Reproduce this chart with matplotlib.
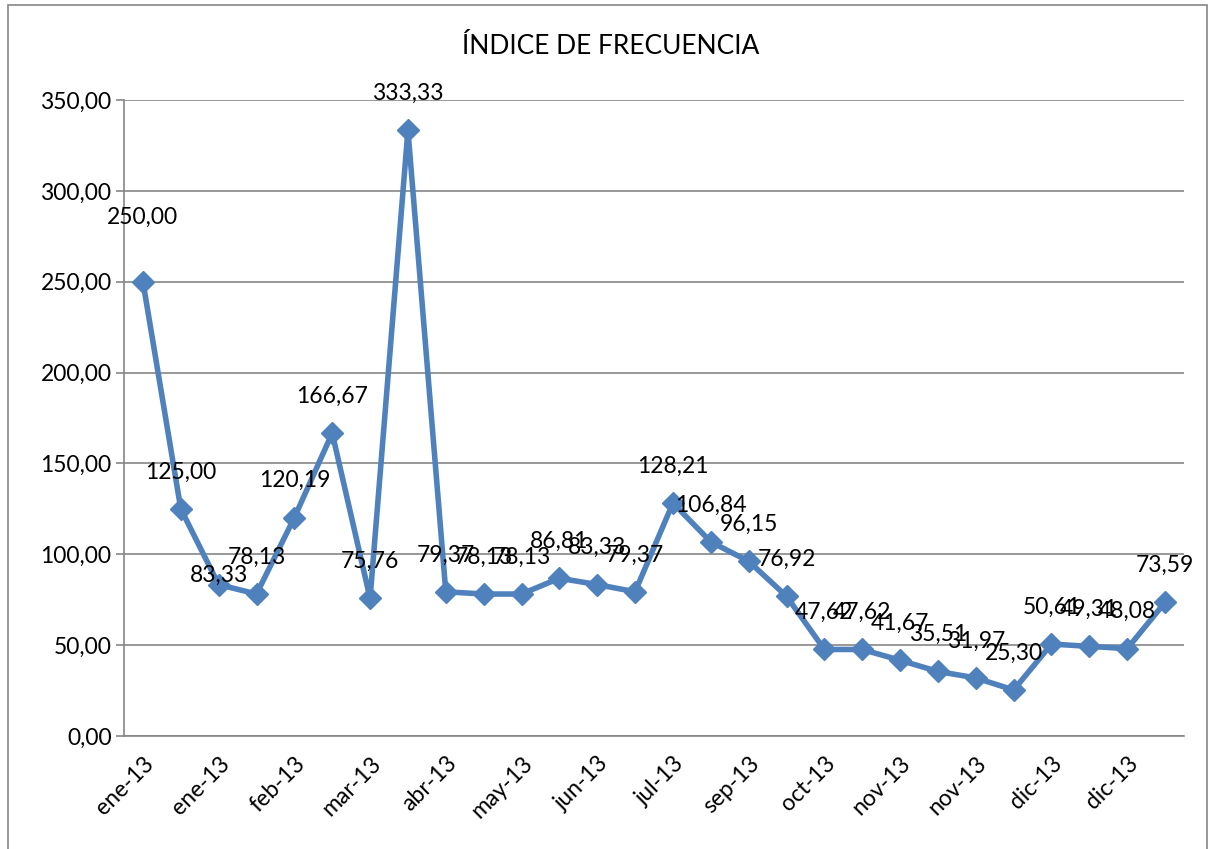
import matplotlib
matplotlib.use("Agg")
import matplotlib.pyplot as plt
from matplotlib.patches import Rectangle

plt.rcParams['font.family'] = ['Lato', 'DejaVu Sans']

# ---- data ----
categories = ["ene-13", "ene-13", "ene-13", "ene-13", "feb-13", "feb-13", "mar-13",
              "mar-13", "abr-13", "abr-13", "may-13", "may-13", "jun-13", "jun-13",
              "jul-13", "jul-13", "sep-13", "sep-13", "oct-13", "oct-13", "nov-13",
              "nov-13", "nov-13", "nov-13", "dic-13", "dic-13", "dic-13", "dic-13"]
values = [250.00, 125.00, 83.33, 78.13, 120.19, 166.67, 75.76, 333.33, 79.37, 78.13,
          78.13, 86.81, 83.33, 79.37, 128.21, 106.84, 96.15, 76.92, 47.62, 47.62,
          41.67, 35.51, 31.97, 25.30, 50.61, 49.31, 48.08, 73.59]
y_ticks = [0, 50, 100, 150, 200, 250, 300, 350]
title = "ÍNDICE DE FRECUENCIA"

W, H = 1214, 849
fig = plt.figure(figsize=(W / 100, H / 100), dpi=100)
fig.patches.append(Rectangle((8 / W, -0.01), (1207 - 8) / W, 1.01 - 5 / H,
                             transform=fig.transFigure, fill=False,
                             edgecolor='#868686', linewidth=1.2))
ax = fig.add_axes([124 / W, 1 - 736 / H, (1184 - 124) / W, (736 - 100) / H])

x = list(range(len(values)))
line_color = '#4F81BD'
ax.plot(x, values, color=line_color, linewidth=4, marker='D', markersize=11.5,
        markerfacecolor=line_color, markeredgecolor=line_color, zorder=3)

# data labels
default_dy = 26.5  # points
overrides = {0: 46.0, 2: 6.5}
for i, v in enumerate(values):
    dy = overrides.get(i, default_dy)
    ax.annotate(f"{v:.2f}".replace('.', ','), (i, v), xytext=(0, dy),
                textcoords='offset points', ha='center', va='center',
                fontsize=16.5, color='black', zorder=4)

ax.set_xlim(-0.5, len(values) - 0.5)
ax.set_ylim(0, 350)
ax.set_yticks(y_ticks)
ax.set_yticklabels([f"{t:.2f}".replace('.', ',') for t in y_ticks], fontsize=16.5)
ax.yaxis.grid(True, color='#868686', linewidth=1.2)
ax.set_axisbelow(True)

ax.set_xticks(x[::2])
ax.set_xticklabels(categories[::2], rotation=45, ha='right', va='top',
                   rotation_mode='anchor', fontsize=16.5)
ax.tick_params(axis='x', length=0, pad=12)
ax.tick_params(axis='y', length=6, width=1.2, color='#868686', pad=3)

for s in ['top', 'right']:
    ax.spines[s].set_visible(False)
for s in ['left', 'bottom']:
    ax.spines[s].set_color('#868686')
    ax.spines[s].set_linewidth(1.2)

fig.text(611 / W, 1 - 47 / H, title, ha='center', va='center', fontsize=19)

fig.savefig("out.png", dpi=100)
